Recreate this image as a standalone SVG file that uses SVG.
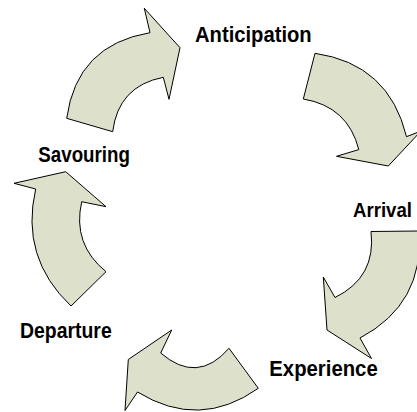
<svg xmlns="http://www.w3.org/2000/svg" width="417" height="412" viewBox="0 0 417 412">
<style>
.arrow{fill:#dde0cb;stroke:#000;stroke-width:1;stroke-linejoin:miter}
.lbl{font-family:"Liberation Sans",Arial,sans-serif;font-weight:bold;font-size:22.5px;fill:#000}
</style>
<rect width="417" height="412" fill="#fff"/>
<g id="connectors">
<path id="c1" class="arrow" d="M 66.7,118.3 Q 76.7,44.9 150,32.7 L 144.3,8.3 L 180,47.7 L 169,99.3 L 163.3,77.3 Q 118.2,86.1 112.7,131.7 Z"/>
<path id="c2" class="arrow" d="M 315,53.3 Q 389,64 406.5,136.7 L 421,131 L 388.3,166 L 336.5,156.3 L 358.8,149.6 Q 347.9,106.5 303.3,99 Z"/>
<path id="c3" class="arrow" d="M 371,231.5 L 419,231 Q 424.5,303.8 360,338 L 371.5,358.5 L 327,330 L 323.3,277 L 335,297.5 Q 376.4,277.2 371,231.5 Z"/>
<path id="c4" class="arrow" d="M 229,348.3 L 258.3,388.3 Q 199.3,430 137.5,392 L 125,410.5 L 128.3,359.5 L 171.7,330 L 160.7,353 Q 197.3,384.7 229,348.3 Z"/>
<path id="c5" class="arrow" d="M 71,306 Q 19.9,257.6 35.7,189 L 14,183.3 L 65.7,171.7 L 106,206.7 L 81.7,201.7 Q 72.1,244.2 106,271.7 Z"/>
</g>
<g id="anticipation"><text class="lbl" x="195" y="41.7" textLength="116.7" lengthAdjust="spacingAndGlyphs">Anticipation</text></g>
<g id="arrival"><text class="lbl" x="353" y="216.7" style="font-size:20px" textLength="59" lengthAdjust="spacingAndGlyphs">Arrival</text></g>
<g id="experience"><text class="lbl" x="269.3" y="376" textLength="108.4" lengthAdjust="spacingAndGlyphs">Experience</text></g>
<g id="departure"><text class="lbl" x="20" y="337.7" textLength="91.7" lengthAdjust="spacingAndGlyphs">Departure</text></g>
<g id="savouring"><text class="lbl" x="38.3" y="161.7" textLength="91.7" lengthAdjust="spacingAndGlyphs">Savouring</text></g>
</svg>
